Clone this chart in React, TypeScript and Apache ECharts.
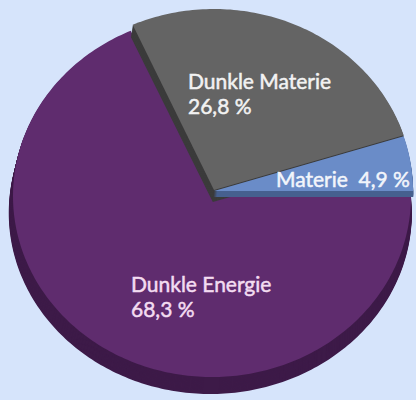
import React, { useEffect, useRef } from "react";
import * as echarts from "echarts";

const categories = ["Dunkle Energie", "Dunkle Materie", "Materie"];
const shares = [68.3, 26.8, 4.9];
const valueLabels = ["68,3 %", "26,8 %", "4,9 %"];

const topColors = ["#5f2c6e", "#646464", "#6a8cc8"];
const sideColors = ["#3d1a48", "#3b3b3b", "#46608f"];
const labelColors = ["#f3dcf1", "#f2f2f2", "#f2f5fb"];

// layout (not data)
const CX = 212;
const CY = 196;
const RX = 199;
const RY = 181;
const explode = [
  [0, 0],
  [2, -6],
  [2, -5],
];
const depth = [17, 12, 6];
const labelLayout = [
  { x: 131, y: 271, single: false },
  { x: 188, y: 68, single: false },
  { x: 276, y: 166, single: true },
];

export default function App() {
  const ref = useRef<HTMLDivElement>(null);
  useEffect(() => {
    if (!ref.current) return;
    const chart = echarts.init(ref.current, undefined, { renderer: "svg" });
    const total = shares.reduce((a, b) => a + b, 0);
    const starts: number[] = [];
    let acc = 0;
    for (const v of shares) {
      starts.push(acc);
      acc += v;
    }
    const sector = (a0: number, a1: number, cx: number, cy: number, rx: number, ry: number) => {
      const pts: number[][] = [[cx, cy]];
      const n = Math.max(4, Math.ceil(Math.abs(a1 - a0) / (Math.PI / 180)));
      for (let k = 0; k <= n; k++) {
        const t = a0 + ((a1 - a0) * k) / n;
        pts.push([cx + rx * Math.cos(t), cy - ry * Math.sin(t)]);
      }
      return pts;
    };
    chart.setOption({
      animation: false,
      backgroundColor: "#d6e4fb",
      series: [
        {
          type: "custom",
          coordinateSystem: "none",
          data: shares.map((v, i) => ({ name: categories[i], value: v })),
          renderItem: (params: any, api: any) => {
            const i = params.dataIndex;
            const v = api.value(0);
            const a0 = (-starts[i] / total) * Math.PI * 2;
            const a1 = a0 - (v / total) * Math.PI * 2;
            const [ox, oy] = explode[i];
            const children: any[] = [];
            for (let k = depth[i]; k >= 1; k--) {
              children.push({
                type: "polygon",
                shape: { points: sector(a0, a1, CX + ox - k * 0.1, CY + oy + k, RX + k * 0.15, RY) },
                style: { fill: sideColors[i] },
                z2: i * 3 + 1,
              });
            }
            children.push({
              type: "polygon",
              shape: { points: sector(a0, a1, CX + ox, CY + oy, RX, RY) },
              style: { fill: topColors[i] },
              z2: i * 3 + 2,
            });
            const lay = labelLayout[i];
            children.push({
              type: "text",
              x: lay.x,
              y: lay.y,
              z2: 30,
              style: {
                text: lay.single
                  ? `${categories[i]}  ${valueLabels[i]}`
                  : `${categories[i]}\n${valueLabels[i]}`,
                fill: labelColors[i],
                stroke: labelColors[i],
                lineWidth: 0.5,
                fontSize: 21,
                fontFamily: "Lato",
                lineHeight: 25,
                align: "left",
                verticalAlign: "top",
              },
            });
            return { type: "group", children };
          },
        },
      ],
    });
    return () => chart.dispose();
  }, []);
  return (
    <div
      ref={ref}
      style={{ position: "fixed", left: 0, top: 0, width: 416, height: 400 }}
    />
  );
}
